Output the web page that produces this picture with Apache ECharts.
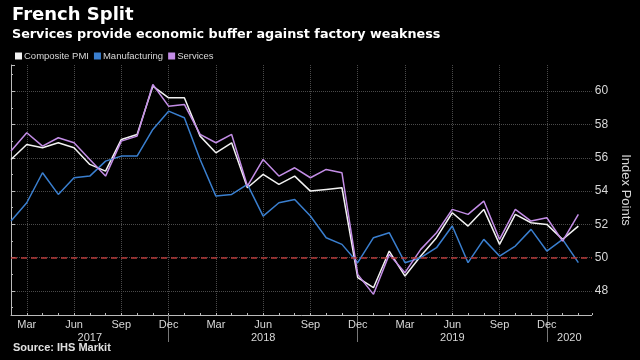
<!DOCTYPE html>
<html><head><meta charset="utf-8">
<script src="https://cdn.jsdelivr.net/npm/echarts@6/dist/echarts.min.js"></script>
<style>html,body{margin:0;padding:0;background:#000}#c{width:640px;height:360px}</style>
</head><body><div id="c"></div>
<script>
const months = ['2017-02','2017-03','2017-04','2017-05','2017-06','2017-07','2017-08','2017-09','2017-10','2017-11','2017-12',
'2018-01','2018-02','2018-03','2018-04','2018-05','2018-06','2018-07','2018-08','2018-09','2018-10','2018-11','2018-12',
'2019-01','2019-02','2019-03','2019-04','2019-05','2019-06','2019-07','2019-08','2019-09','2019-10','2019-11','2019-12',
'2020-01','2020-02'];
const composite = [55.9,56.8,56.6,56.9,56.6,55.6,55.2,57.1,57.4,60.3,59.6,59.6,57.3,56.3,56.9,54.2,55.0,54.4,54.9,54.0,54.1,54.2,48.8,48.2,50.4,48.9,50.1,51.2,52.7,51.9,52.9,50.8,52.6,52.1,52.0,51.1,51.9];
const manufacturing = [52.2,53.3,55.1,53.8,54.8,54.9,55.8,56.1,56.1,57.7,58.8,58.4,55.9,53.7,53.8,54.4,52.5,53.3,53.5,52.5,51.2,50.8,49.7,51.2,51.5,49.7,50.0,50.6,51.9,49.7,51.1,50.1,50.7,51.7,50.4,51.1,49.7];
const services = [56.4,57.5,56.7,57.2,56.9,55.9,54.9,57.0,57.3,60.4,59.1,59.2,57.4,56.9,57.4,54.3,55.9,54.9,55.4,54.8,55.3,55.1,49.0,47.8,50.2,49.1,50.5,51.5,52.9,52.6,53.4,51.1,52.9,52.2,52.4,51.0,52.6];
const monthNames = ['Jan','Feb','Mar','Apr','May','Jun','Jul','Aug','Sep','Oct','Nov','Dec'];
const shownMonths = ['Mar','Jun','Sep','Dec'];
const yearLabels = ['2017','2018','2019','2020'];
const threshold = 50;

const X_MIN = 0, X_MAX = 36.85;
const mName = i => monthNames[parseInt(months[i].slice(5),10)-1];
const labelIdx = months.map((m,i)=>i).filter(i => shownMonths.includes(mName(i)));
const decIdx = months.map((m,i)=>i).filter(i => mName(i) === 'Dec');
const bounds = [X_MIN].concat(decIdx, [X_MAX]);
const yearPos = yearLabels.map((y,k)=>(bounds[k]+bounds[k+1])/2);
const toPairs = arr => arr.map((v,i)=>[i,v]);

const chart = echarts.init(document.getElementById('c'));
const txt = '#d8d8d8';
const grid = '#4a4a4a';
chart.setOption({
  backgroundColor:'#000',
  animation:false,
  textStyle:{fontFamily:'Liberation Sans'},
  title:[
    {text:'French Split', left:12, top:6, padding:0, textStyle:{color:'#fff', fontSize:18, fontWeight:'bold', fontFamily:'DejaVu Sans'}},
    {text:'Services provide economic buffer against factory weakness', left:12, top:28, padding:0, textStyle:{color:'#fff', fontSize:12.75, fontWeight:'bold', fontFamily:'DejaVu Sans'}},
    {text:'Source: IHS Markit', left:13, top:342, padding:0, textStyle:{color:'#e0e0e0', fontSize:11, fontWeight:'bold'}}
  ],
  legend:{left:15, top:51, padding:0, itemWidth:7, itemHeight:7, itemGap:5, icon:'rect',
    textStyle:{color:txt, fontSize:9.5, padding:[0,0,0,-3]},
    data:['Composite PMI','Manufacturing','Services']},
  grid:{left:11, right:41, top:65, bottom:45, containLabel:false},
  xAxis:[
    {type:'value', min:X_MIN, max:X_MAX, interval:1, position:'bottom',
     axisLine:{show:true, lineStyle:{color:'#bbb', width:1}},
     axisTick:{show:true, inside:true, length:2, lineStyle:{color:'#bbb'}},
     axisLabel:{show:false}, splitLine:{show:false}},
    {type:'value', min:X_MIN, max:X_MAX, position:'bottom',
     axisLine:{show:false},
     axisTick:{show:false, customValues:labelIdx},
     axisLabel:{show:true, customValues:labelIdx, color:txt, fontSize:11, margin:4,
       formatter:v=>mName(Math.round(v))},
     splitLine:{show:true, lineStyle:{color:grid, type:'dotted', width:1}}},
    {type:'value', min:X_MIN, max:X_MAX, position:'bottom',
     axisLine:{show:false},
     axisTick:{show:true, customValues:decIdx, length:27, lineStyle:{color:'#777'}},
     axisLabel:{show:true, customValues:yearPos, color:txt, fontSize:11, margin:17,
       formatter:v=>{const k=yearPos.findIndex(p=>Math.abs(p-v)<1e-6);return k>=0?yearLabels[k]:'';}},
     splitLine:{show:false}}
  ],
  yAxis:{type:'value', position:'right', min:46.56, max:61.57, splitNumber:7, minInterval:2, maxInterval:2,
    name:'Index Points', nameLocation:'middle', nameRotate:-90, nameGap:17,
    nameTextStyle:{color:txt, fontSize:13},
    axisLine:{show:true, lineStyle:{color:'#bbb'}},
    axisTick:{show:true, length:4, lineStyle:{color:'#bbb'}},
    minorTick:{show:true, splitNumber:2, length:2, lineStyle:{color:'#bbb'}},
    axisLabel:{color:txt, fontSize:12, margin:3, showMinLabel:false, showMaxLabel:false},
    splitLine:{show:true, lineStyle:{color:['transparent',grid,grid,grid,grid,grid,grid,grid,'transparent'], type:'dotted'}}},
  series:[
    {name:'Composite PMI', type:'line', data:toPairs(composite), symbol:'none', color:'#f2f2f2', lineStyle:{width:1.5},
     markLine:{silent:true, symbol:'none', label:{show:false}, data:[{yAxis:threshold}],
       lineStyle:{color:'#b83a3a', type:[6,4], width:1.5}}},
    {name:'Manufacturing', type:'line', data:toPairs(manufacturing), symbol:'none', color:'#3a7fcf', lineStyle:{width:1.5}},
    {name:'Services', type:'line', data:toPairs(services), symbol:'none', color:'#c38de6', lineStyle:{width:1.5}}
  ]
});
</script></body></html>
